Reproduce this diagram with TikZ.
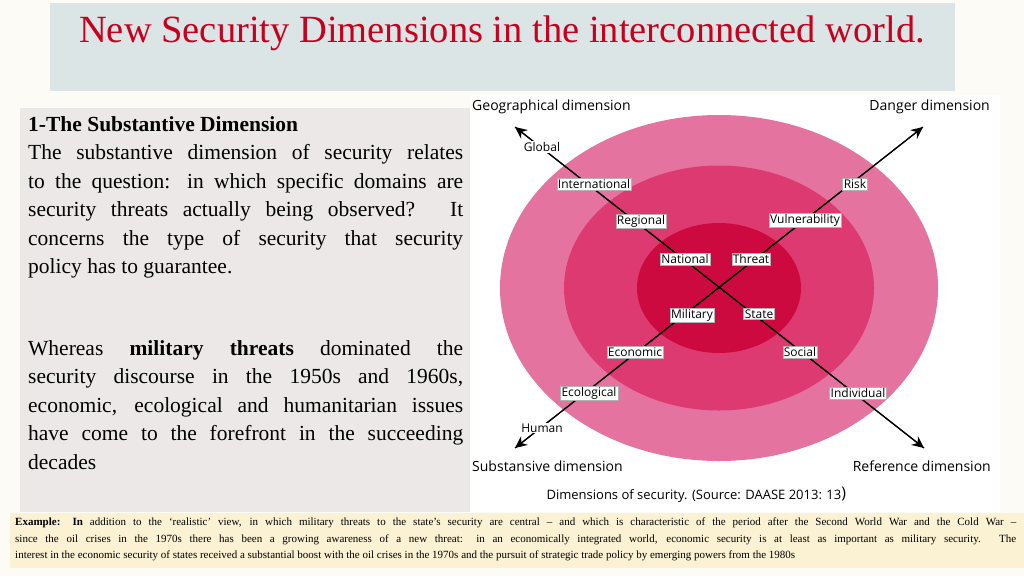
\documentclass[tikz,border=0pt]{standalone}
\usepackage{fontspec}
\setmainfont{Liberation Serif}
\newfontfamily\figsans{Open Sans}
\usetikzlibrary{arrows.meta}
\definecolor{titlebg}{HTML}{DCE5E6}
\definecolor{leftbg}{HTML}{ECE8E8}
\definecolor{botbg}{HTML}{FBF1D3}
\definecolor{pageb}{HTML}{FDFBF6}
\definecolor{titlered}{HTML}{C8001E}
\definecolor{outerc}{HTML}{E5739F}
\definecolor{midc}{HTML}{DD3A72}
\definecolor{innerc}{HTML}{CC0A3F}
\tikzset{
  lbl/.style={fill=white,draw=black!30,line width=0.3pt,inner sep=1.2pt,font=\figsans\fontsize{12}{13}\selectfont},
  plain/.style={inner sep=1pt,font=\figsans\fontsize{12}{13}\selectfont},
  dimlbl/.style={inner sep=0pt,font=\figsans\fontsize{14}{16}\selectfont},
  axis/.style={line width=1.2pt,-{Stealth[length=12pt,width=11pt]}},
  para/.style={anchor=north west,align=justify,inner sep=0pt}
}
\hyphenpenalty=10000
\exhyphenpenalty=10000
\begin{document}
\begin{tikzpicture}[x=1pt,y=-1pt]
\useasboundingbox (0,0) rectangle (1024,576);
\fill[pageb] (0,0) rectangle (1024,576);
\fill[titlebg] (50,3) rectangle (955,91);
\node[text=titlered,font=\fontsize{38.5}{42}\selectfont] (title) at (502,33) {New Security Dimensions in the interconnected world.};
\fill[leftbg] (20,108) rectangle (470,512);
\fill[white] (470,95) rectangle (1000,512);
\fill[botbg] (10,513) rectangle (1024,568);
% left text
\node[para,text width=435pt,font=\fontsize{21.5}{28.5}\selectfont] (p1) at (28,116)
{\textbf{1-The Substantive Dimension}\\ The substantive dimension of security relates\linebreak to the question: in which specific domains are\linebreak security threats actually being observed? It\linebreak concerns the type of security that security\linebreak policy has to guarantee.};
\node[para,text width=435pt,font=\fontsize{21.5}{28.5}\selectfont] (p2) at (28,340)
{Whereas \textbf{military threats} dominated the\linebreak security discourse in the 1950s and 1960s,\linebreak economic, ecological and humanitarian issues\linebreak have come to the forefront in the succeeding\linebreak decades};
% ellipses
\fill[outerc] (719,288) ellipse [x radius=219,y radius=173];
\fill[midc] (719,288) ellipse [x radius=155,y radius=122.5];
\fill[innerc] (719,288) ellipse [x radius=82,y radius=65];
\coordinate (gd) at (515,127);
\coordinate (rd) at (924,448);
\coordinate (dd) at (923,127);
\coordinate (sd) at (515,448);
\draw[axis] (rd) -- (gd);
\draw[axis] (gd) -- (rd);
\draw[axis] (sd) -- (dd);
\draw[axis] (dd) -- (sd);
\node[plain,fill=white] (global) at (542,147) {Global};
\node[plain,fill=white] (human) at (542,428) {Human};
\node[lbl] (intl) at (594,184) {International};
\node[lbl] (reg) at (641,221) {Regional};
\node[lbl] (nat) at (685,259) {National};
\node[lbl] (thr) at (751,259) {Threat};
\node[lbl] (mil) at (692,315) {Military};
\node[lbl] (sta) at (759,314) {State};
\node[lbl] (eco) at (635,352) {Economic};
\node[lbl] (soc) at (800,352) {Social};
\node[lbl] (ecol) at (589,393) {Ecological};
\node[lbl] (risk) at (855,184) {Risk};
\node[lbl] (vul) at (805,220) {Vulnerability};
\node[lbl] (ind) at (858,393) {Individual};
\node[dimlbl,anchor=west] (geo) at (472,107) {Geographical dimension};
\node[dimlbl,anchor=east] (dan) at (990,107) {Danger dimension};
\node[dimlbl,anchor=west] (sub) at (472,466) {Substansive dimension};
\node[dimlbl,anchor=east] (ref) at (991,466) {Reference dimension};
\node[font=\figsans\fontsize{13}{15}\selectfont,anchor=west] (cap) at (543,495) {Dimensions of security. (Source: DAASE 2013: 13\rlap{\raisebox{1pt}{\fontsize{16}{16}\selectfont)}}};
% bottom text
\node[para,text width=1001pt,font=\fontsize{11}{16.5}\selectfont] (ex) at (15,518)
{\textbf{Example: In} addition to the `realistic' view, in which military threats to the state's security are central -- and which is characteristic of the period after the Second World War and the Cold War --\linebreak since the oil crises in the 1970s there has been a growing awareness of a new threat: in an economically integrated world, economic security is at least as important as military security. The\linebreak interest in the economic security of states received a substantial boost with the oil crises in the 1970s and the pursuit of strategic trade policy by emerging powers from the 1980s};
\end{tikzpicture}
\end{document}
